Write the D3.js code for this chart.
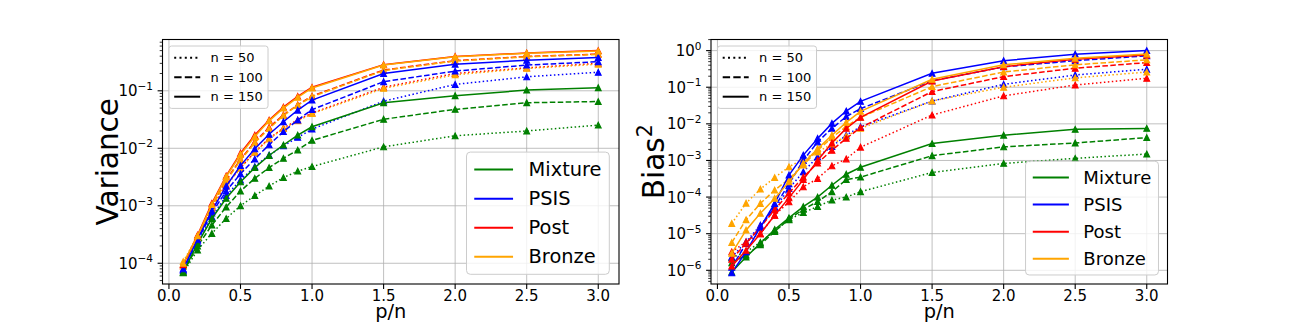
<!DOCTYPE html>
<html><head><meta charset="utf-8">
<script src="https://cdn.jsdelivr.net/npm/d3@7"></script>
<style>
body{margin:0;background:#fff}
svg{display:block}
text{font-family:"DejaVu Sans",sans-serif;fill:#000}
</style></head>
<body><svg id="chart" width="1296" height="324"></svg>
<script>
// ---------- data ----------
const xValues = [0.1,0.2,0.3,0.4,0.5,0.6,0.7,0.8,0.9,1.0,1.5,2.0,2.5,3.0];
const methods = ["Mixture","PSIS","Post","Bronze"];
const sampleSizes = [50,100,150];
const sampleLabels = ["n = 50","n = 100","n = 150"];
const xTickValues = [0,0.5,1,1.5,2,2.5,3];
const xTickLabels = ["0.0","0.5","1.0","1.5","2.0","2.5","3.0"];
const varianceTickExponents = [-4,-3,-2,-1];
const biasTickExponents = [-6,-5,-4,-3,-2,-1,0];

// rows: n = 50, 100, 150
const varianceMixture = [
 [6.8e-5,1.7e-4,3.3e-4,6.0e-4,1.0e-3,1.5e-3,2.2e-3,3.1e-3,4.0e-3,4.8e-3,0.0106,0.0165,0.020,0.0253],
 [7.0e-5,2.0e-4,4.6e-4,9.5e-4,1.8e-3,3.0e-3,4.6e-3,6.7e-3,9.3e-3,0.0137,0.032,0.0475,0.062,0.065],
 [7.0e-5,2.2e-4,6.0e-4,1.35e-3,2.6e-3,4.6e-3,7.5e-3,0.0114,0.017,0.0237,0.062,0.082,0.103,0.113]
];
const variancePSIS = [
 [7.5e-5,2.3e-4,6.4e-4,1.5e-3,2.8e-3,4.8e-3,7.6e-3,0.011,0.0155,0.0215,0.066,0.129,0.175,0.21],
 [7.8e-5,2.5e-4,7.5e-4,1.8e-3,3.6e-3,6.5e-3,0.0115,0.0195,0.031,0.047,0.144,0.22,0.28,0.32],
 [8.0e-5,2.6e-4,8.2e-4,2.2e-3,5.0e-3,9.8e-3,0.0175,0.029,0.046,0.069,0.2,0.29,0.34,0.38]
];
const variancePost = [
 [9.5e-5,2.9e-4,8.8e-4,2.3e-3,4.6e-3,8.6e-3,0.0148,0.0225,0.031,0.041,0.115,0.2,0.25,0.30],
 [9.0e-5,2.9e-4,9.8e-4,2.8e-3,6.4e-3,0.013,0.023,0.038,0.057,0.081,0.23,0.335,0.395,0.435],
 [9.5e-5,3.1e-4,1.1e-3,3.3e-3,8.2e-3,0.017,0.031,0.052,0.08,0.115,0.285,0.395,0.455,0.5]
];
const varianceBronze = [
 [1.07e-4,3.0e-4,8.5e-4,2.2e-3,4.5e-3,8.5e-3,0.0145,0.022,0.030,0.040,0.11,0.19,0.245,0.29],
 [9.0e-5,2.8e-4,9.5e-4,2.7e-3,6.2e-3,0.0125,0.022,0.037,0.056,0.079,0.225,0.33,0.39,0.43],
 [1.0e-4,3.0e-4,1.05e-3,3.2e-3,7.8e-3,0.016,0.030,0.050,0.077,0.112,0.28,0.39,0.45,0.49]
];
const biasMixture = [
 [2.2e-6,3.2e-6,5.8e-6,1.2e-5,2.4e-5,3.8e-5,5.5e-5,8.3e-5,1.0e-4,1.4e-4,4.7e-4,8.3e-4,1.14e-3,1.5e-3],
 [1.6e-6,2.6e-6,5.0e-6,1.15e-5,2.5e-5,4.6e-5,7.5e-5,1.4e-4,3.0e-4,3.5e-4,1.35e-3,2.35e-3,3.0e-3,4.2e-3],
 [9.0e-7,2.3e-6,5.5e-6,1.3e-5,2.7e-5,5.5e-5,1.0e-4,2.1e-4,4.2e-4,6.5e-4,2.9e-3,4.9e-3,7.1e-3,7.5e-3]
];
const biasPSIS = [
 [2.3e-6,6.0e-6,1.7e-5,4.9e-5,1.7e-4,4.9e-4,1.26e-3,2.4e-3,4.9e-3,8.3e-3,0.042,0.12,0.216,0.31],
 [1.2e-6,5.4e-6,1.5e-5,5.4e-5,2.3e-4,1.0e-3,3.2e-3,7.5e-3,0.0158,0.026,0.15,0.36,0.53,0.72],
 [8.5e-7,3.2e-6,1.5e-5,6.7e-5,4.0e-4,1.4e-3,4.0e-3,0.0103,0.0224,0.041,0.24,0.53,0.8,1.0]
];
const biasPost = [
 [3.2e-6,6.0e-6,1.0e-5,3.2e-5,7.4e-5,1.9e-4,3.2e-4,7.1e-4,1.1e-3,2.3e-3,0.0174,0.058,0.115,0.176],
 [2.0e-6,5.5e-6,1.5e-5,4.5e-5,1.3e-4,3.5e-4,8.5e-4,1.9e-3,4.0e-3,7.9e-3,0.076,0.195,0.33,0.47],
 [1.3e-6,3.5e-6,1.0e-5,3.2e-5,9.5e-5,3.0e-4,1.0e-3,3.0e-3,7.5e-3,0.015,0.148,0.365,0.58,0.76]
];
const biasBronze = [
 [1.9e-5,6.8e-5,1.65e-4,3.4e-4,6.7e-4,1.1e-3,1.7e-3,2.8e-3,4.6e-3,7.5e-3,0.042,0.1,0.18,0.26],
 [5.7e-6,2.4e-5,6.7e-5,1.55e-4,3.1e-4,7.5e-4,1.9e-3,4.2e-3,8.5e-3,0.015,0.104,0.26,0.41,0.56],
 [2.9e-6,1.25e-5,3.6e-5,9.2e-5,2.6e-4,8.3e-4,2.1e-3,4.9e-3,0.011,0.022,0.165,0.41,0.62,0.81]
];

// ---------- styles ----------
const methodColors = {Mixture:"#008000", PSIS:"#0000ff", Post:"#ff0000", Bronze:"#ffa500"};
const dashFor = (k, lw) => [ [1*lw,1.65*lw].join(","), [3.7*lw,1.6*lw].join(","), null ][k];

const svg = d3.select("#chart");

function drawPanel(cfg){
  const g = svg.append("g");
  const L=cfg.left, R=cfg.right, T=cfg.top, B=cfg.bottom;
  const xPad = (d3.max(xValues)-d3.min(xValues))*0.05;
  const x = d3.scaleLinear().domain([d3.min(xValues)-xPad, d3.max(xValues)+xPad]).range([L,R]);
  const all = cfg.series.flat(2);
  const lmin = Math.log10(d3.min(all)), lmax = Math.log10(d3.max(all));
  const m = (lmax-lmin)*0.05;
  const y = d3.scaleLog().domain([10**(lmin-m), 10**(lmax+m)]).range([B,T]);

  // grid
  const grid = g.append("g").attr("stroke","#b0b0b0").attr("stroke-width",0.8);
  xTickValues.forEach(v=>grid.append("line").attr("x1",x(v)).attr("x2",x(v)).attr("y1",T).attr("y2",B));
  cfg.yExp.forEach(e=>grid.append("line").attr("x1",L).attr("x2",R).attr("y1",y(10**e)).attr("y2",y(10**e)));

  // clip
  const clipId = "clip"+cfg.id;
  svg.append("clipPath").attr("id",clipId).append("rect").attr("x",L).attr("y",T).attr("width",R-L).attr("height",B-T);
  const plot = g.append("g").attr("clip-path",`url(#${clipId})`);

  const line = d3.line().x((d,i)=>x(xValues[i])).y(d=>y(d));
  const tri = "M0,-2.9L2.9,2.9L-2.9,2.9Z";
  sampleSizes.forEach((n,k)=>{
    methods.forEach((meth,mi)=>{
      const vals = cfg.series[mi][k];
      const col = methodColors[meth];
      plot.append("path").attr("d",line(vals)).attr("fill","none").attr("stroke",col)
        .attr("stroke-width",1.5).attr("stroke-dasharray",dashFor(k,1.5));
      vals.forEach((v,i)=>{
        plot.append("path").attr("d",tri).attr("transform",`translate(${x(xValues[i])},${y(v)})`)
          .attr("fill",col).attr("stroke",col).attr("stroke-width",1.1).attr("stroke-linejoin","miter");
      });
    });
  });

  // spines
  g.append("rect").attr("x",L).attr("y",T).attr("width",R-L).attr("height",B-T)
    .attr("fill","none").attr("stroke","#000").attr("stroke-width",1.1);

  // x ticks
  xTickValues.forEach((v,i)=>{
    g.append("line").attr("x1",x(v)).attr("x2",x(v)).attr("y1",B).attr("y2",B+4.9).attr("stroke","#000").attr("stroke-width",1.1);
    g.append("text").attr("x",x(v)).attr("y",301).attr("text-anchor","middle").attr("font-size",15).text(xTickLabels[i]);
  });
  // y major ticks
  cfg.yExp.forEach(e=>{
    const yy = y(10**e);
    g.append("line").attr("x1",L-4.9).attr("x2",L).attr("y1",yy).attr("y2",yy).attr("stroke","#000").attr("stroke-width",1.1);
    const t = g.append("text").attr("x",L-9.5).attr("y",yy+5.5).attr("text-anchor","end").attr("font-size",15);
    t.append("tspan").text("10");
    t.append("tspan").attr("font-size",10.5).attr("dy",-6.5).text(e<0?"\u2212"+(-e):String(e));
  });
  // y minor ticks
  const [d0,d1] = y.domain();
  for(let e=Math.floor(Math.log10(d0)); e<=Math.ceil(Math.log10(d1)); e++){
    for(let k=2;k<=9;k++){
      const v=k*10**e;
      if(v<d0||v>d1) continue;
      g.append("line").attr("x1",L-2.8).attr("x2",L).attr("y1",y(v)).attr("y2",y(v)).attr("stroke","#000").attr("stroke-width",0.8);
    }
  }

  // axis labels
  g.append("text").attr("x",(L+R)/2).attr("y",317.5).attr("text-anchor","middle").attr("font-size",19.4).text("p/n");
  const yl = g.append("text").attr("transform",`translate(${cfg.ylabelX},${(T+B)/2}) rotate(-90)`)
    .attr("text-anchor","middle").attr("font-size",29.5);
  yl.append("tspan").text(cfg.ylabel);
  if(cfg.ylabelSup){ yl.append("tspan").attr("font-size",20.6).attr("dy",-12).text(cfg.ylabelSup); }

  // legends
  function legend(entries, fs, anchor){
    const lg = g.append("g");
    const box = lg.append("rect");
    const rows = entries.length;
    const h = fs*(0.8 + rows + (rows-1)*0.5);
    const texts=[];
    entries.forEach((en,i)=>{
      const t = lg.append("text").attr("font-size",fs).text(en.label);
      texts.push(t);
    });
    const tw = d3.max(texts, t=>t.node().getComputedTextLength());
    const w = fs*(0.4+2+0.8+0.4)+tw;
    let x0,y0;
    if(anchor==="ul"){ x0=L+0.5*fs; y0=T+0.5*fs; } else { x0=R-0.5*fs-w; y0=B-0.5*fs-h; }
    box.attr("x",x0).attr("y",y0).attr("width",w).attr("height",h).attr("rx",0.2*fs)
      .attr("fill","#fff").attr("fill-opacity",0.8).attr("stroke","#cccccc").attr("stroke-width",1);
    entries.forEach((en,i)=>{
      const cy = y0 + 0.4*fs + 0.5*fs + i*1.5*fs;
      lg.append("line").attr("x1",x0+0.4*fs).attr("x2",x0+2.4*fs).attr("y1",cy).attr("y2",cy)
        .attr("stroke",en.color).attr("stroke-width",2).attr("stroke-dasharray",en.dash);
      texts[i].attr("x",x0+3.2*fs).attr("y",cy+0.34*fs);
    });
  }
  legend(sampleSizes.map((n,k)=>({label:sampleLabels[k],color:"#000",dash:dashFor(k,2)})), 13, "ul");
  legend(methods.map(mm=>({label:mm,color:methodColors[mm],dash:null})), cfg.legendFs, "lr");
}

drawPanel({id:"v", left:162.5, right:619, top:39.5, bottom:284,
  series:[varianceMixture,variancePSIS,variancePost,varianceBronze],
  yExp:varianceTickExponents, ylabel:"Variance", ylabelX:118, legendFs:19.4});
drawPanel({id:"b", left:711, right:1167.5, top:39.5, bottom:284,
  series:[biasMixture,biasPSIS,biasPost,biasBronze],
  yExp:biasTickExponents, ylabel:"Bias", ylabelSup:"2", ylabelX:663.5, legendFs:18.06});
</script>
</body></html>
